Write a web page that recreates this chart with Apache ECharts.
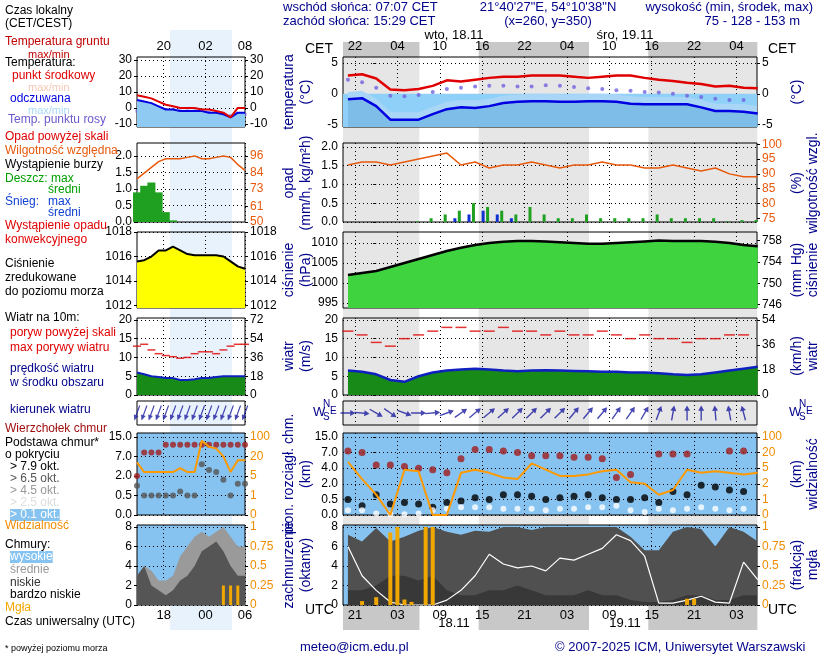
<!DOCTYPE html>
<html><head><meta charset="utf-8">
<script src="https://cdn.jsdelivr.net/npm/echarts@6/dist/echarts.min.js"></script>
<style>html,body{margin:0;padding:0;background:#fff}#c{width:820px;height:660px}</style>
</head><body><div id="c"></div>
<script>
// ---------- DATA (main panel, hours from 00 UTC 18.11, every 2 h) ----------
const hours = [-4,-2,0,2,4,6,8,10,12,14,16,18,20,22,24,26,28,30,32,34,36,38,40,42,44,46,48,50,52,54];
const tempMid = [3.0,3.2,2.5,0.7,0.6,0.8,1.3,2.2,2.0,2.3,2.6,2.8,2.8,3.0,3.0,3.0,2.8,2.6,2.8,3.0,3.0,2.6,2.3,2.1,1.8,1.6,1.2,1.3,1.0,0.9];
const tempFeel = [-0.9,-0.7,-2.0,-4.2,-4.2,-4.2,-3.3,-2.5,-2.2,-2.3,-2.0,-1.5,-1.3,-1.2,-1.2,-1.3,-1.3,-1.2,-1.2,-1.3,-1.6,-1.7,-1.7,-1.7,-1.7,-2.2,-2.8,-2.8,-2.9,-3.2];
const dewPoint = [2.3,1.9,1.0,-0.3,-0.4,-0.2,0.3,0.8,1.0,1.2,1.3,1.3,1.2,1.2,1.4,1.3,1.1,0.9,0.8,0.6,0.5,0.3,0.2,0.0,-0.3,-0.5,-0.8,-1.0,-1.0,-1.1];
const rain = [0,0,0,0,0,0.02,0.1,0.2,0.3,0.5,0.4,0.3,0.2,0.4,0.2,0.1,0.1,0.2,0.1,0.1,0.1,0.1,0.2,0.1,0.1,0.1,0.1,0.02,0.05,0.05];
const snow = [0,0,0,0,0,0,0,0.1,0.2,0.3,0.2,0.1,0,0,0,0,0,0,0,0,0,0,0,0,0,0,0,0,0,0];
const humidity = [93,94,94,93,94,95,96,97,93,94,92,93,93,94,93,92,93,93,94,93,93,92,92,93,92,91,92,90,89,89];
const pressure = [1002,1002.5,1003,1004,1005,1006,1007,1008,1008.8,1009.5,1010,1010.3,1010.5,1010.5,1010.4,1010.2,1010,1009.8,1009.8,1010,1010.2,1010.4,1010.6,1010.5,1010.5,1010.5,1010.3,1010,1009.5,1009.2];
const windSpeed = [6.5,6.2,5.5,4,3.5,5,6,6.5,6.8,7,6.8,6.5,6.3,6.5,6.6,6.5,6.4,6.3,6.2,6.2,6.0,6.0,5.8,5.5,5.3,5.5,6.0,6.5,7.0,7.5];
const windGust = [17,16,14,13,15,16,17,18,18,17,17,18,17,17,16,17,16,16,17,16,15,16,15,15,14,15,15,16,16,17];
const windRot = [-90,-95,-120,-125,-110,-90,-85,-70,-55,-50,-50,-48,-45,-45,-45,-45,-40,-40,-40,-35,-35,-30,-20,-10,0,0,5,10,15,20];
const cloudTop = [4.1,4.0,3.2,3.2,3.1,3.0,2.9,2.7,3.6,4.2,4.2,4.1,4.0,3.8,3.8,3.8,3.7,3.7,3.6,2.4,2.6,null,3.9,3.9,3.9,null,null,4.1,4.1,4.1];
const cloudBase = [1.0,0.6,1.3,0.7,0.8,0.7,0.5,0.8,0.9,1.1,1.0,1.3,1.3,1.2,1.0,1.1,1.2,1.3,1.1,1.0,1.0,1.1,0.8,1.5,1.3,1.9,1.8,1.6,1.5,1.5];
const cloudBaseLow = [0.3,0.3,0.1,0.05,0.05,0.1,0.3,0.4,0.5,0.5,0.5,0.4,0.4,0.4,0.3,0.4,0.4,0.5,0.5,0.6,0.3,0.2,0.4,0.3,0.4,0.5,0.4,0.3,0.4,0.3];
const visibility = [3.4,2.3,1.3,0.0,2.9,2.8,0.0,0.0,2.7,2.9,2.7,2.4,2.3,3.3,2.9,2.5,2.5,2.6,2.8,2.9,2.1,2.0,1.3,1.6,2.9,2.7,2.8,2.7,2.6,2.7];
const cloudTotal = [7.2,6.5,7.9,6.5,7.0,7.6,8,7.5,7.2,7.6,7.5,8,8,7.7,8,8,8,8,8,8,7.0,5.6,5.6,7.5,8,7.8,6.0,8,7.5,6.5];
const cloudLow = [1.5,1.5,2,3,3,2.5,3,1.5,1,1,1.5,1.5,2,1.5,1,1,1,1.5,1,1,0.5,0.3,0.3,0.5,1,1,0.5,0.5,1,1];
const cloudMid = [6,3,1.5,0.3,0,0,0,0.5,1.5,3,5.2,4.2,3.8,4.0,3.5,4.8,4.6,5.2,5.8,7.2,6.6,5,0.2,0.2,0.5,0.9,0.3,0.2,4.4,2.6];
const fogHours = [-2,0,2,3,4,5,7,8,44,45];
const fogValues = [0.05,0.1,0.93,1.0,0.07,0.04,1.0,1.0,0.08,0.08];
const hourTicks = [-3,3,9,15,21,27,33,39,45,51];
// ---------- DATA (legend mini panel) ----------
const miniHours = [0,1,2,3,4,5,6,7,8,9,10,11,12,13,14,15];
const miniTemp = [8,7,6,4,2,1,0,0,0,-1,-1,-2,-3,-6,0,0];
const miniFeel = [5,4,3,1,-1,-1,-2,-2,-2,-2,-3,-3,-4,-6,-3,-3];
const miniDew = [-2,-2,-2,-2,-1,-1,-2,-2,-2,-3,-3,-3,-4,-5,-4,-4];
const miniPressure = [1015.6,1015.7,1016,1016.5,1016.5,1016.8,1016.5,1016.2,1016.1,1016.1,1016.1,1016.1,1016,1015.6,1015.2,1015];
const miniHum = [80,84,88,92,94,94,94,95,96,94,94,95,96,95,90,86];
const miniRain = [0.9,1.1,1.2,0.9,0.3,0.05,0,0,0,0,0,0,0,0,0,0];
const miniWind = [6,5.5,5,4.8,4.5,4.5,4,4,4.2,4.5,4.5,4.8,5,5,5,5];
const miniGust = [13,13.5,12,11,10.5,10.2,9.8,10,11,11.5,11.5,11,12,13,13.5,13.5];
const miniTop = [2.0,3.2,3.2,3.2,3.6,3.6,3.6,3.6,3.6,3.6,3.6,3.6,3.6,3.6,3.6,3.6];
const miniBase = [1.5,1.0,1.0,1.0,1.0,1.0,1.2,1.0,1.0,2.6,2.3,2.2,1.8,1.0,1.6,1.6];
const miniCover = [3,4,3.5,2.5,2.5,3,5,6,7,7.5,7,7.5,8,7,6,6];
const miniLow = [3,4,2,1.5,1,1.5,2.5,3,4,5.5,6,6.5,5.5,4,3,3];
const miniFog = [0,0,0,0,0,0,0,0,0,0,0,0,0.25,0.25,0.25,0];

const F='Liberation Sans', NAVY='#00008b';
const grids=[],xAxes=[],yAxes=[],series=[];
const tops=[57,143,232,318,401,433,525], hts=[70,79,76,77,24,82,80];
const pair=(xs,ys)=>xs.map((x,i)=>[x,ys[i]]);
const dot={type:[1,3],color:'#000',width:1};
function grid(left,width,i,bg){grids.push({left,width,top:tops[i],height:hts[i],show:true,backgroundColor:bg||'transparent',borderColor:'#000',borderWidth:1});return grids.length-1;}
function xax(g,min,max,ticks,pos,fmt){const o={type:'value',gridIndex:g,min,max,position:pos||'bottom',axisLine:{show:false},axisTick:{show:false,customValues:ticks},splitLine:{show:true,lineStyle:dot},axisLabel:{show:!!fmt,customValues:ticks,formatter:fmt,fontFamily:F,fontSize:13,color:'#000',margin:4}};xAxes.push(o);return xAxes.length-1;}
function yax(g,min,max,ticks,pos,fmt,color,split){yAxes.push({type:'value',gridIndex:g,min,max,position:pos,axisLine:{show:false},axisTick:{show:true,customValues:ticks,length:3,lineStyle:{color:'#000'}},splitLine:{show:!!split,lineStyle:dot},axisLabel:{customValues:ticks,formatter:fmt||(v=>String(v)),fontFamily:F,fontSize:12,color:color||'#000',margin:5}});return yAxes.length-1;}
const hh=v=>String(((Math.round(v)%24)+24)%24).padStart(2,'0');
const XMIN=-4.7,XMAX=53.9;
const idxVis=['0','1','2','5','20','100'];
const ARROW='path://M-0.7,20 L0.7,20 L0.7,7 L3,7 L0,0 L-3,7 L-0.7,7 Z';

const G=[],X=[],YL=[],YR=[];
const bgs=[null,null,null,null,null,'#87c3f0','#87c3f0'];
for(let i=0;i<7;i++){
  G[i]=grid(343,414,i,bgs[i]);
  X[i]=xax(G[i],XMIN,XMAX,hourTicks,i===0?'top':'bottom',i===0?(v=>hh(v+1)):(i===6?(v=>hh(v)):null));
}
YL[0]=yax(G[0],-5.4,6,[-5,0,5],'left',null,null,true); YR[0]=yax(G[0],-5.4,6,[-5,0,5],'right');
YL[1]=yax(G[1],0,2.1,[0,0.5,1,1.5,2],'left',v=>v.toFixed(1),null,true); YR[1]=yax(G[1],73.8,100.4,[75,80,85,90,95,100],'right',null,'#e8590c');
YL[2]=yax(G[2],993.75,1012.75,[995,1000,1005,1010],'left',null,null,true); YR[2]=yax(G[2],993.75*0.75006,1012.75*0.75006,[746,750,754,758],'right');
YL[3]=yax(G[3],0,20.5,[0,5,10,15,20],'left',null,null,true); YR[3]=yax(G[3],0,55.4,[0,18,36,54],'right');
YL[4]=yax(G[4],-1,1,[],'left'); YR[4]=yax(G[4],-1,1,[],'right');
YL[5]=yax(G[5],0,5.25,[0,1,2,3,4,5],'left',v=>['0.0','0.5','2.0','4.0','7.0','15.0'][v],null,true); YR[5]=yax(G[5],0,5.25,[0,1,2,3,4,5],'right',v=>idxVis[v],'#f08c00');
YL[6]=yax(G[6],0,8.2,[0,2,4,6,8],'left',null,null,true); YR[6]=yax(G[6],0,1.025,[0,0.25,0.5,0.75,1],'right',v=>String(v),'#f08c00');

const H=hours;
series.push(
 {type:'line',xAxisIndex:X[0],yAxisIndex:YL[0],data:pair(H,tempFeel.map(v=>v+1.2)),showSymbol:false,lineStyle:{width:0},areaStyle:{color:'#a9d6f7',opacity:1,origin:'start'},z:2,
  markArea:{silent:true,itemStyle:{color:'#8fd0f8'},data:[[{yAxis:-5.4},{yAxis:0}]]}},
 {type:'line',xAxisIndex:X[0],yAxisIndex:YL[0],data:pair(H,tempFeel),showSymbol:false,lineStyle:{color:'#0000e0',width:2.5},areaStyle:{color:'#7fbde9',opacity:1,origin:'start'},z:3},
 {type:'line',xAxisIndex:X[0],yAxisIndex:YL[0],data:pair(H,tempMid),showSymbol:false,lineStyle:{color:'#e00000',width:2.5},z:4},
 {type:'scatter',xAxisIndex:X[0],yAxisIndex:YL[0],data:pair(H,dewPoint),symbol:'circle',symbolSize:4,itemStyle:{color:'#7060e0'},z:4},
 {type:'bar',xAxisIndex:X[1],yAxisIndex:YL[1],data:pair(H,rain),barWidth:3,itemStyle:{color:'#20a020'}},
 {type:'bar',xAxisIndex:X[1],yAxisIndex:YL[1],data:pair(H.map(h=>h+0.9),snow),barWidth:3,itemStyle:{color:'#1030d0'}},
 {type:'line',xAxisIndex:X[1],yAxisIndex:YR[1],data:pair(H,humidity),showSymbol:false,lineStyle:{color:'#e8590c',width:1.5}},
 {type:'line',xAxisIndex:X[2],yAxisIndex:YL[2],data:pair(H,pressure),showSymbol:false,lineStyle:{color:'#000',width:2.5},areaStyle:{color:'#3fd33f',opacity:1,origin:'start'}},
 {type:'line',xAxisIndex:X[3],yAxisIndex:YL[3],data:pair(H,windSpeed),showSymbol:false,lineStyle:{color:'#1020c0',width:2.5},areaStyle:{color:'#178a17',opacity:1,origin:'start'}},
 {type:'scatter',xAxisIndex:X[3],yAxisIndex:YL[3],data:pair(H,windGust),symbol:'rect',symbolSize:[11,1.5],itemStyle:{color:'#e00000'}},
 {type:'scatter',xAxisIndex:X[4],yAxisIndex:YL[4],data:H.map((h,i)=>({value:[h,0],symbolRotate:windRot[i]})),symbol:ARROW,symbolSize:[6,15],itemStyle:{color:'#1a1aa0'}},
 {type:'line',xAxisIndex:X[5],yAxisIndex:YL[5],data:pair(H,visibility),showSymbol:false,lineStyle:{color:'#ff9900',width:2},z:3},
 {type:'scatter',xAxisIndex:X[5],yAxisIndex:YL[5],data:pair(H,cloudTop),symbolSize:7,itemStyle:{color:'#a11d1d'}},
 {type:'scatter',xAxisIndex:X[5],yAxisIndex:YL[5],data:pair(H,cloudBase),symbolSize:7,itemStyle:{color:'#000'}},
 {type:'scatter',xAxisIndex:X[5],yAxisIndex:YL[5],data:pair(H,cloudBaseLow),symbolSize:6,itemStyle:{color:'#fff'}},
 {type:'line',xAxisIndex:X[6],yAxisIndex:YL[6],data:pair(H,cloudTotal),showSymbol:false,lineStyle:{width:0},areaStyle:{color:'#505050',opacity:1,origin:'start'},z:2},
 {type:'line',xAxisIndex:X[6],yAxisIndex:YL[6],data:pair(H,cloudLow),showSymbol:false,lineStyle:{width:0},areaStyle:{color:'#383838',opacity:1,origin:'start'},z:2},
 {type:'line',xAxisIndex:X[6],yAxisIndex:YL[6],data:pair(H,cloudMid),showSymbol:false,lineStyle:{color:'#fff',width:1.2},z:3},
 {type:'bar',xAxisIndex:X[6],yAxisIndex:YR[6],data:pair(fogHours,fogValues),barWidth:4,barGap:'-100%',itemStyle:{color:'#f0a800'},z:10}
);

const MG=[],MX=[],ML=[],MR=[];
for(let i=0;i<7;i++){
  MG[i]=grid(137,108,i,bgs[i]);
  const mt=[3.7,9.5,15];
  MX[i]=xax(MG[i],0,15,mt,i===0?'top':'bottom',i===0?(v=>['20','02','08'][mt.indexOf(v)]):(i===6?(v=>['18','00','06'][mt.indexOf(v)]):null));
}
ML[0]=yax(MG[0],-12,32,[-10,0,10,20,30],'left',null,null,true); MR[0]=yax(MG[0],-12,32,[-10,0,10,20,30],'right');
ML[1]=yax(MG[1],0,2.4,[0,0.5,1,1.5,2],'left',v=>v.toFixed(1),null,true); MR[1]=yax(MG[1],50,105,[50,61,73,84,96],'right',null,'#e8590c');
ML[2]=yax(MG[2],1011.8,1018,[1012,1014,1016,1018],'left',null,null,true); MR[2]=yax(MG[2],1011.8,1018,[1012,1014,1016,1018],'right');
ML[3]=yax(MG[3],0,20.5,[0,5,10,15,20],'left',null,null,true); MR[3]=yax(MG[3],0,20.5,[0,5,10,15,20],'right',v=>String(Math.round(v*3.6)));
ML[4]=yax(MG[4],-1,1,[],'left'); MR[4]=yax(MG[4],-1,1,[],'right');
ML[5]=yax(MG[5],0,4.2,[0,1,2,3,4],'left',v=>['0.0','0.5','2.0','7.0','15.0'][v],null,true); MR[5]=yax(MG[5],0,4.2,[0,1,2,3,4],'right',v=>['0','1','5','20','100'][v],'#f08c00');
ML[6]=yax(MG[6],0,8.2,[0,2,4,6,8],'left',null,null,true); MR[6]=yax(MG[6],0,1.025,[0,0.25,0.5,0.75,1],'right',v=>String(v),'#f08c00');
const M=miniHours;
series.push(
 {type:'line',xAxisIndex:MX[0],yAxisIndex:ML[0],data:pair(M,miniFeel),showSymbol:false,lineStyle:{color:'#0000e0',width:2},areaStyle:{color:'#8fcaf2',opacity:1,origin:'start'}},
 {type:'line',xAxisIndex:MX[0],yAxisIndex:ML[0],data:pair(M,miniTemp),showSymbol:false,lineStyle:{color:'#e00000',width:2}},
 {type:'scatter',xAxisIndex:MX[0],yAxisIndex:ML[0],data:pair(M,miniDew),symbol:'rect',symbolSize:3,itemStyle:{color:'#7060e0'}},
 {type:'bar',xAxisIndex:MX[1],yAxisIndex:ML[1],data:pair(M,miniRain),barWidth:8,itemStyle:{color:'#20a020'}},
 {type:'line',xAxisIndex:MX[1],yAxisIndex:MR[1],data:pair(M,miniHum),showSymbol:false,lineStyle:{color:'#e8590c',width:1.5}},
 {type:'line',xAxisIndex:MX[2],yAxisIndex:ML[2],data:pair(M,miniPressure),showSymbol:false,lineStyle:{color:'#000',width:2},areaStyle:{color:'#ffff00',opacity:1,origin:'start'}},
 {type:'line',xAxisIndex:MX[3],yAxisIndex:ML[3],data:pair(M,miniWind),showSymbol:false,lineStyle:{color:'#1020c0',width:2},areaStyle:{color:'#178a17',opacity:1,origin:'start'}},
 {type:'scatter',xAxisIndex:MX[3],yAxisIndex:ML[3],data:pair(M,miniGust),symbol:'rect',symbolSize:[8,1.5],itemStyle:{color:'#e00000'}},
 {type:'scatter',xAxisIndex:MX[4],yAxisIndex:ML[4],data:M.map(m=>({value:[m,0],symbolRotate:160})),symbol:ARROW,symbolSize:[5,16],itemStyle:{color:'#1a1aa0'}},
 {type:'line',xAxisIndex:MX[5],yAxisIndex:ML[5],data:pair(M,miniBase.map(v=>v+1.2)),showSymbol:false,lineStyle:{color:'#ff9900',width:2}},
 {type:'scatter',xAxisIndex:MX[5],yAxisIndex:ML[5],data:pair(M,miniTop),symbolSize:6,itemStyle:{color:'#a11d1d'}},
 {type:'scatter',xAxisIndex:MX[5],yAxisIndex:ML[5],data:pair(M,miniBase),symbolSize:6,itemStyle:{color:'#555'}},
 {type:'line',xAxisIndex:MX[6],yAxisIndex:ML[6],data:pair(M,miniCover),showSymbol:false,lineStyle:{width:0},areaStyle:{color:'#9a9a9a',opacity:1,origin:'start'}},
 {type:'line',xAxisIndex:MX[6],yAxisIndex:ML[6],data:pair(M,miniLow),showSymbol:false,lineStyle:{width:0},areaStyle:{color:'#555',opacity:1,origin:'start'}},
 {type:'bar',xAxisIndex:MX[6],yAxisIndex:MR[6],data:pair(M,miniFog),barWidth:3,itemStyle:{color:'#f0a800'},z:10}
);

const xOf=h=>355+(h+3)*7.07;
const nights=[[-4.7,6.1],[14.5,30.1],[38.5,53.9]];
const gr=[];
nights.forEach(([a,b])=>{gr.push({type:'rect',z:-5,shape:{x:xOf(a),y:42,width:xOf(b)-xOf(a),height:588},style:{fill:'#e6e6e6'}});
  gr.push({type:'rect',z:-4,shape:{x:xOf(a),y:42,width:xOf(b)-xOf(a),height:15},style:{fill:'#c8c8c8'}});
  gr.push({type:'rect',z:-4,shape:{x:xOf(a),y:605,width:xOf(b)-xOf(a),height:25},style:{fill:'#c8c8c8'}});});
gr.push({type:'rect',z:-5,shape:{x:170,y:30,width:62,height:600},style:{fill:'#e8f2fc'}});
function T(x,y,text,color,size,extra){gr.push({type:'text',z:50,x,y,style:Object.assign({text,fill:color||'#000',font:(size||12)+'px '+F},(extra||{}))});}
function R(x,y,text,color){gr.push({type:'text',z:50,x,y,rotation:Math.PI/2,style:{text,fill:color||NAVY,font:'14px '+F,align:'center',verticalAlign:'middle'}});}
T(283,1,'wschód słońca: 07:07 CET',NAVY,13); T(283,15,'zachód słońca: 15:29 CET',NAVY,13);
T(548,1,'21°40\'27"E, 54°10\'38"N',NAVY,13,{align:'center'}); T(548,15,'(x=260, y=350)',NAVY,13,{align:'center'});
T(813,1,'wysokość (min, środek, max)',NAVY,13,{align:'right'}); T(800,15,'75 - 128 - 153 m',NAVY,13,{align:'right'});
T(454,29,'wto, 18.11','#000',13,{align:'center'}); T(625,29,'śro, 19.11','#000',13,{align:'center'});
T(305,42,'CET','#000',14); T(768,42,'CET','#000',14);
T(305,603,'UTC','#000',14); T(768,603,'UTC','#000',14);
T(454,617,'18.11','#000',13,{align:'center'}); T(625,617,'19.11','#000',13,{align:'center'});
T(300,641,'meteo@icm.edu.pl',NAVY,13); T(555,641,'© 2007-2025 ICM, Uniwersytet Warszawski',NAVY,13);
R(289,92,'temperatura'); R(306,92,'(°C)'); R(797,92,'(°C)');
R(289,183,'opad'); R(306,183,'(mm/h, kg/m²h)'); R(797,183,'(%)'); R(813,183,'wilgotność wzgl.');
R(289,270,'ciśnienie'); R(306,270,'(hPa)'); R(797,270,'(mm Hg)'); R(813,270,'ciśnienie');
R(289,356,'wiatr'); R(306,356,'(m/s)'); R(797,356,'(km/h)'); R(813,356,'wiatr');
R(289,474,'pion. rozciągł. chm.'); R(306,474,'(km)'); R(797,474,'(km)'); R(813,474,'widzialność');
R(289,565,'zachmurzenie'); R(306,565,'(oktanty)'); R(797,565,'(frakcja)'); R(813,565,'mgła');
[[322,412],[798,412]].forEach(([x,y])=>{T(x-9,y-6,'W',NAVY,13);T(x+1,y-13,'N',NAVY,10);T(x+1,y,'S',NAVY,10);T(x+8,y-6,'E',NAVY,10);});
T(5,4,'Czas lokalny\n(CET/CEST)','#000',12,{lineHeight:13});
T(5,36,'Temperatura gruntu','#c00000'); T(28,49,'max/min','#c00000',11);
T(5,57,'Temperatura:'); T(12,70,'punkt środkowy','#e00000'); T(28,82,'max/min','#f4c8b8',11);
T(10,93,'odczuwana','#0000e0'); T(28,105,'max/min','#a8d8f8',11); T(8,114,'Temp. punktu rosy','#6a5acd');
T(5,131,'Opad powyżej skali','#e00000'); T(5,145,'Wilgotność względna','#e8590c');
T(5,159,'Wystąpienie burzy'); T(5,173,'Deszcz: max','#00a000'); T(48,184,'średni','#00a000');
T(5,196,'Śnieg:','#1040d0'); T(48,196,'max','#1040d0'); T(48,207,'średni','#1040d0');
T(5,219,'Wystąpienie opadu\nkonwekcyjnego','#e00000',12,{lineHeight:14});
T(5,257,'Ciśnienie\nzredukowane\ndo poziomu morza','#000',12,{lineHeight:14});
T(5,312,'Wiatr na 10m:'); T(10,327,'poryw powyżej skali','#e00000'); T(10,342,'max porywy wiatru','#e00000');
T(10,362,'prędkość wiatru\nw środku obszaru',NAVY,12,{lineHeight:14});
T(10,404,'kierunek wiatru',NAVY); T(5,423,'Wierzchołek chmur','#a01010');
T(5,437,'Podstawa chmur*\no pokryciu','#000',12,{lineHeight:12});
T(10,461,'> 7.9 okt.'); T(10,473,'> 6.5 okt.','#555'); T(10,485,'> 4.5 okt.','#999'); T(10,497,'> 2.5 okt.','#ddd');
T(10,509,'> 0.1 okt.','#fff',12,{backgroundColor:'#87c3f0'}); T(5,520,'Widzialność','#f08c00');
T(5,539,'Chmury:'); T(10,551,'wysokie','#fff',12,{backgroundColor:'#87c3f0'}); T(10,564,'średnie','#999');
T(10,577,'niskie','#333'); T(10,589,'bardzo niskie','#000'); T(5,602,'Mgła','#f0a800');
T(5,616,'Czas uniwersalny (UTC)'); T(5,644,'* powyżej poziomu morza','#000',9);

const chart=echarts.init(document.getElementById('c'));
chart.setOption({animation:false,textStyle:{fontFamily:F},grid:grids,xAxis:xAxes,yAxis:yAxes,series,graphic:{elements:gr}});
</script></body></html>
